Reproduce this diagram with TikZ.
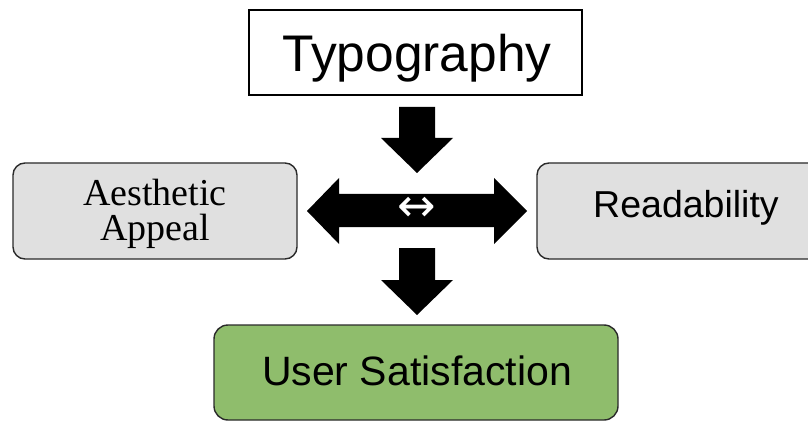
\documentclass[tikz,border=0pt]{standalone}
\usepackage{fontspec}
\setmainfont{Liberation Serif}
\setsansfont{Liberation Sans}
\newfontfamily\symfont{DejaVu Sans}
\definecolor{boxgray}{HTML}{E0E0E0}
\definecolor{boxgreen}{HTML}{8FBD6C}
\definecolor{edgegray}{HTML}{2A2A2A}
\begin{document}
\begin{tikzpicture}[x=1pt,y=-1pt,
  sidebox/.style={draw=edgegray,line width=1.4pt,fill=boxgray,rounded corners=12pt},
  blockarrow/.style={fill=black,draw=none},
  sanslabel/.style={font=\sffamily,inner sep=0pt}]
\useasboundingbox (0,0) rectangle (808,422);
\clip (0,0) rectangle (808,422);
\fill[white] (0,0) rectangle (808,422);
% boxes
\draw[line width=1.6pt,draw=black,fill=white] (249,10) rectangle (582,95);
\node[sanslabel,font=\sffamily\fontsize{51.5}{51}\selectfont,anchor=base] (typo) at (417,72) {Typography};
\draw[sidebox] (13,163) rectangle (297,259);
\node[inner sep=0pt,align=center,font=\fontsize{38}{35}\selectfont] (aes) at (155,214) {Aesthetic\\Appeal};
\draw[sidebox] (537,163) rectangle (834,259);
\node[sanslabel,font=\sffamily\fontsize{37.5}{37}\selectfont,anchor=base] (read) at (686,217) {Readability};
\draw[draw=edgegray,line width=1.4pt,fill=boxgreen,rounded corners=14pt] (214,325) rectangle (618,420);
\node[sanslabel,font=\sffamily\fontsize{41}{41}\selectfont,anchor=base] (user) at (417,385) {User Satisfaction};
% top down arrow
\fill[blockarrow] (399,107) -- (435,107) -- (435,138) -- (453,138) -- (417,173) -- (381,138) -- (399,138) -- cycle;
% double arrow
\fill[blockarrow] (307,211) -- (339,178) -- (339,194) -- (494,194) -- (494,178) -- (527,211) -- (494,244) -- (494,227) -- (339,227) -- (339,244) -- cycle;
\node[text=white,inner sep=0pt,font=\symfont\fontsize{46}{46}\selectfont] (sym) at (417,209) {↔};
% bottom down arrow
\fill[blockarrow] (399,248) -- (435,248) -- (435,280) -- (453,280) -- (417,315) -- (381,280) -- (399,280) -- cycle;
\end{tikzpicture}
\end{document}
